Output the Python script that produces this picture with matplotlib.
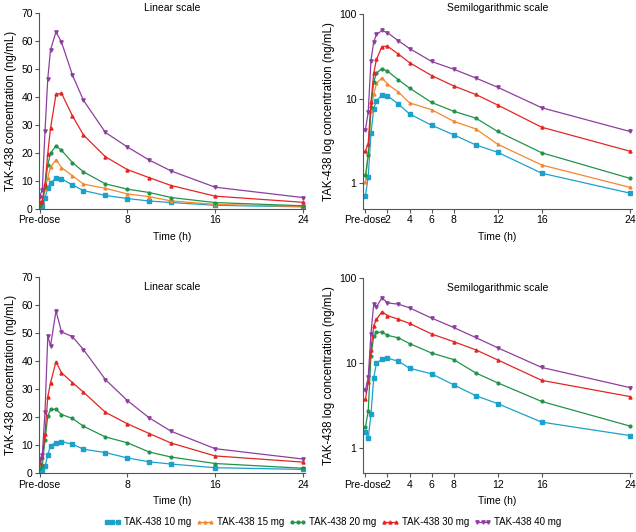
import numpy as np
import matplotlib
matplotlib.use("Agg")
import matplotlib.pyplot as plt

plt.rcParams['font.family'] = ['Liberation Sans', 'DejaVu Sans']
plt.rcParams['font.size'] = 7.5

# sampling times (h), 0 = pre-dose
times = [0, 0.25, 0.5, 0.75, 1, 1.5, 2, 3, 4, 6, 8, 10, 12, 16, 24]

labels = ['TAK-438 10 mg', 'TAK-438 15 mg', 'TAK-438 20 mg', 'TAK-438 30 mg', 'TAK-438 40 mg']
colors = ['#1ba1cb', '#f3872b', '#21934a', '#e42523', '#8d3f9e']
markers = ['s', '^', 'o', '^', 'v']
msizes = [2.6, 2.0, 2.0, 2.2, 2.4]

# top row (first study) - all doses
top_10 = [0.72, 1.19, 3.9, 7.6, 9.4, 11.0, 10.8, 8.6, 6.6, 4.85, 3.75, 2.85, 2.33, 1.32, 0.77]
top_15 = [1.04, 2.2, 7.2, 11.2, 15.1, 17.6, 14.8, 11.9, 8.9, 7.4, 5.4, 4.4, 2.9, 1.65, 0.9]
top_20 = [1.25, 2.15, 8.0, 15.8, 20.0, 22.6, 21.0, 16.6, 13.3, 9.0, 7.1, 5.9, 4.1, 2.3, 1.15]
top_30 = [2.4, 2.95, 9.0, 19.8, 28.9, 41.0, 41.4, 33.3, 26.5, 18.7, 14.1, 11.2, 8.4, 4.6, 2.4]
top_40 = [4.3, 6.9, 28.0, 46.6, 56.9, 63.4, 59.7, 47.9, 38.9, 27.4, 22.2, 17.5, 13.6, 7.8, 4.1]

# bottom row (second study) - no 15 mg group
bot_10 = [1.54, 1.29, 2.46, 6.6, 9.9, 11.0, 11.3, 10.4, 8.6, 7.4, 5.5, 4.1, 3.3, 2.0, 1.39]
bot_20 = [1.75, 2.7, 12.0, 20.4, 22.8, 22.9, 21.0, 19.6, 16.8, 13.0, 10.9, 7.6, 5.8, 3.5, 1.8]
bot_30 = [3.7, 5.9, 14.2, 27.3, 32.3, 39.9, 35.9, 32.4, 29.0, 21.8, 17.7, 14.2, 10.8, 6.2, 4.0]
bot_40 = [4.8, 6.7, 22.0, 49.0, 45.5, 58.0, 50.5, 48.8, 44.2, 33.5, 26.0, 19.8, 15.0, 8.8, 5.1]

top_data = [top_10, top_15, top_20, top_30, top_40]
bot_data = [bot_10, None, bot_20, bot_30, bot_40]

fig = plt.figure(figsize=(6.36, 5.32), dpi=100)
W, H = 636, 532


def add_ax(x0, y0, x1, y1):
    return fig.add_axes([x0 / W, 1 - y1 / H, (x1 - x0) / W, (y1 - y0) / H])


def style(ax):
    for s in ['top', 'right']:
        ax.spines[s].set_visible(False)
    for s in ['left', 'bottom']:
        ax.spines[s].set_color('#555555')
        ax.spines[s].set_linewidth(0.8)
    ax.tick_params(direction='out', length=3, width=0.8, color='#555555', pad=1.5)


def draw(ax, data, log):
    handles = []
    for d, c, m, ms, lab in zip(data, colors, markers, msizes, labels):
        if d is None:
            continue
        h, = ax.plot(times, d, color=c, marker=m, markersize=ms, lw=0.9, label=lab)
        handles.append(h)
    style(ax)
    if log:
        ax.set_yscale('log')
        ax.set_ylim(0.5, 100)
        ax.set_yticks([1, 10, 100])
        ax.set_yticklabels(['1', '10', '100'])
        ax.yaxis.set_minor_locator(matplotlib.ticker.NullLocator())
        ax.set_xlim(-0.25, 24.2)
        ax.set_xticks([0, 2, 4, 6, 8, 12, 16, 24])
        ax.set_xticklabels(['Pre-dose', '2', '4', '6', '8', '12', '16', '24'])
        ax.set_ylabel('TAK-438 log concentration (ng/mL)', labelpad=3, fontsize=8.3)
    else:
        ax.set_ylim(0, 70)
        ax.set_yticks(range(0, 71, 10))
        ax.set_xlim(-0.05, 24.2)
        ax.set_xticks([0, 8, 16, 24])
        ax.set_xticklabels(['Pre-dose', '8', '16', '24'])
        ax.set_ylabel('TAK-438 concentration (ng/mL)', labelpad=3, fontsize=8.3)
    ax.set_xlabel('Time (h)', labelpad=5)
    return handles


ax1 = add_ax(39, 13.3, 305, 209)
ax2 = add_ax(362.7, 13.7, 632, 209)
ax3 = add_ax(39, 277.3, 305, 473.3)
ax4 = add_ax(362.7, 277.7, 632, 473.3)

handles = draw(ax1, top_data, False)
draw(ax2, top_data, True)
draw(ax3, bot_data, False)
draw(ax4, bot_data, True)

ax1.set_title('Linear scale', fontsize=7.5, pad=2)
ax2.set_title('Semilogarithmic scale', fontsize=7.5, pad=2)
ax3.text(0.5, 0.975, 'Linear scale', transform=ax3.transAxes, ha='center', va='top', fontsize=7.5)
ax4.text(0.5, 0.975, 'Semilogarithmic scale', transform=ax4.transAxes, ha='center', va='top', fontsize=7.5)

fig.legend(handles=handles, loc='center', bbox_to_anchor=(0.523, 1 - 522 / H), ncol=5,
           frameon=False, numpoints=3, handlelength=1.8, handletextpad=0.3,
           columnspacing=0.5, fontsize=7)

fig.savefig('out.png', dpi=100)
